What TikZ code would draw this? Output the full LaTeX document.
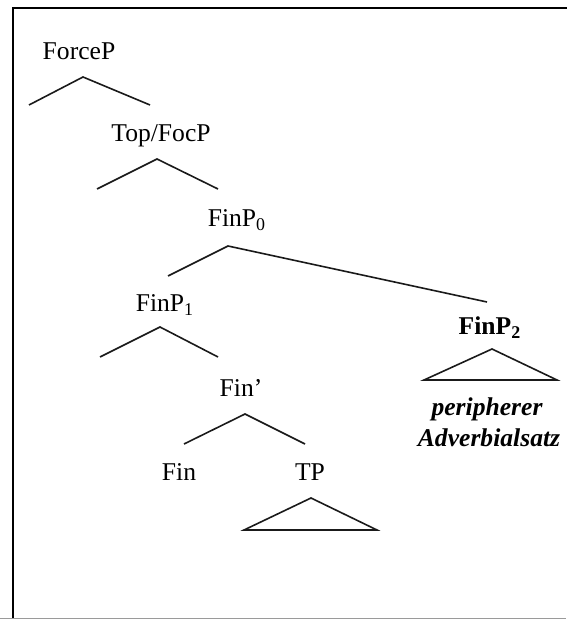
\documentclass[tikz,border=0pt]{standalone}
\usepackage{fontspec}
\setmainfont{Liberation Serif}
\usepackage{xcolor}
\usetikzlibrary{positioning}
\definecolor{framegray}{HTML}{9A9A9A}
\definecolor{treeline}{HTML}{1A1A1A}

\begin{document}
\begin{tikzpicture}[x=0.5pt,y=-0.5pt,font=\fontsize{12.8}{15}\selectfont,
  lbl/.style={anchor=base,inner sep=0pt},
  hilite/.style={lbl,font=\fontsize{12.8}{15}\selectfont\bfseries\itshape},
  br/.style={treeline,line width=0.8pt,line join=miter}]
\useasboundingbox (0,0) rectangle (566,619);
% frame: top and left in black, bottom rule in gray
\draw[line width=1.3pt] (567,8) -- (13,8) -- (13,620);
\draw[framegray,line width=1pt] (0,618.5) -- (566,618.5);
% labels
\node[lbl](forceP) at (79,60) {ForceP};
\node[lbl](topfoc) at (161,142) {Top/FocP};
\node[lbl](finP0) at (237,227) {FinP\textsubscript{0}};
\node[lbl](finP1) at (165,312) {FinP\textsubscript{1}};
\node[lbl](finbar) at (241,396) {Fin'};
\node[lbl](fin) at (179,480) {Fin};
\node[lbl](tp) at (310,480) {TP};
\node[lbl,font=\fontsize{12.8}{15}\selectfont\bfseries](finP2) at (490,335) {FinP\textsubscript{2}};
\node[hilite](periph) at (487,415) {peripherer};
\node[hilite](adv) at (489,446) {Adverbialsatz};
% branch points
\coordinate(forceP-a) at (83,77);  \coordinate(forceP-l) at (29,105);  \coordinate(forceP-r) at (150,105);
\coordinate(topfoc-a) at (157,159); \coordinate(topfoc-l) at (97,189);  \coordinate(topfoc-r) at (218,189);
\coordinate(finP0-a) at (228,246);  \coordinate(finP0-l) at (168,276);  \coordinate(finP0-r) at (487,302);
\coordinate(finP1-a) at (160,327);  \coordinate(finP1-l) at (100,357);  \coordinate(finP1-r) at (218,357);
\coordinate(finbar-a) at (245,414); \coordinate(finbar-l) at (184,444); \coordinate(finbar-r) at (305,444);
\coordinate(tp-a) at (311,498);     \coordinate(tp-l) at (244,530);     \coordinate(tp-r) at (377,530);
\coordinate(finP2-a) at (492,349);  \coordinate(finP2-l) at (424,380);  \coordinate(finP2-r) at (557,380);
% branches
\foreach \n in {forceP,topfoc,finP0,finP1,finbar}
  \draw[br](\n-l) -- (\n-a) -- (\n-r);
% roofs
\foreach \n in {tp,finP2}
  \draw[br](\n-a) -- (\n-r) -- (\n-l) -- cycle;
\end{tikzpicture}
\end{document}
